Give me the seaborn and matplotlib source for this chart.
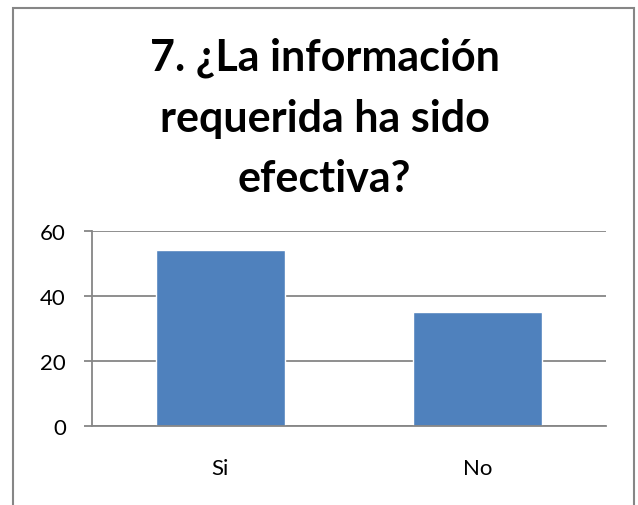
import matplotlib
matplotlib.use("Agg")
import matplotlib.pyplot as plt
import seaborn as sns
import pandas as pd
from matplotlib.patches import Rectangle

# data
categories = ["Si", "No"]
values = [54, 35]
title = "7. ¿La información\nrequerida ha sido\nefectiva?"

bar_color = "#4F81BD"
grey = "#868686"

df = pd.DataFrame({"respuesta": categories, "valor": values})

sns.set_style("white")
plt.rcParams['font.family'] = ['Lato', 'DejaVu Sans']
plt.rcParams['text.color'] = 'black'

fig = plt.figure(figsize=(6.38, 5.06), dpi=100)
ax = fig.add_axes([0.1437, 0.1567, 0.8061, 0.3848])

sns.barplot(data=df, x="respuesta", y="valor", color=bar_color, width=0.5,
            saturation=1, ax=ax, zorder=3)

ax.set_xlim(-0.5, len(categories) - 0.5)
ax.set_ylim(0, 60)
ax.set_yticks([0, 20, 40, 60])
ax.yaxis.grid(True, color=grey, linewidth=1.3, zorder=0)
ax.set_axisbelow(True)

# category boundary ticks below axis, labels centered under bars
ax.set_xticks([-0.5, 0.5, 1.5])
ax.set_xticklabels(["", "", ""])
ax.set_xticks(range(len(categories)), minor=True)
ax.set_xticklabels(categories, minor=True)
ax.tick_params(axis="x", which="major", length=5.5, width=1.3, color=grey, direction="out")
ax.tick_params(axis="x", which="minor", length=0, pad=23, labelsize=16, labelcolor="black")
ax.tick_params(axis="y", length=5.5, width=1.3, color=grey, pad=13, labelsize=16,
               labelcolor="black", left=True)

ax.set_xlabel("")
ax.set_ylabel("")
for side in ["top", "right"]:
    ax.spines[side].set_visible(False)
for side in ["left", "bottom"]:
    ax.spines[side].set_color(grey)
    ax.spines[side].set_linewidth(1.3)
    ax.spines[side].set_zorder(4)

fig.text(0.509, 0.766, title, ha="center", va="center", fontsize=31,
         fontweight="bold", linespacing=1.62, color="black")

# chart-area border (left, top, right)
fig.patches.append(Rectangle((12.7 / 638, -0.05), (634 - 12.7) / 638, 1.05 - 9.3 / 506,
                             transform=fig.transFigure, fill=False,
                             edgecolor=grey, linewidth=1.5))

fig.savefig("out.png", dpi=100)
